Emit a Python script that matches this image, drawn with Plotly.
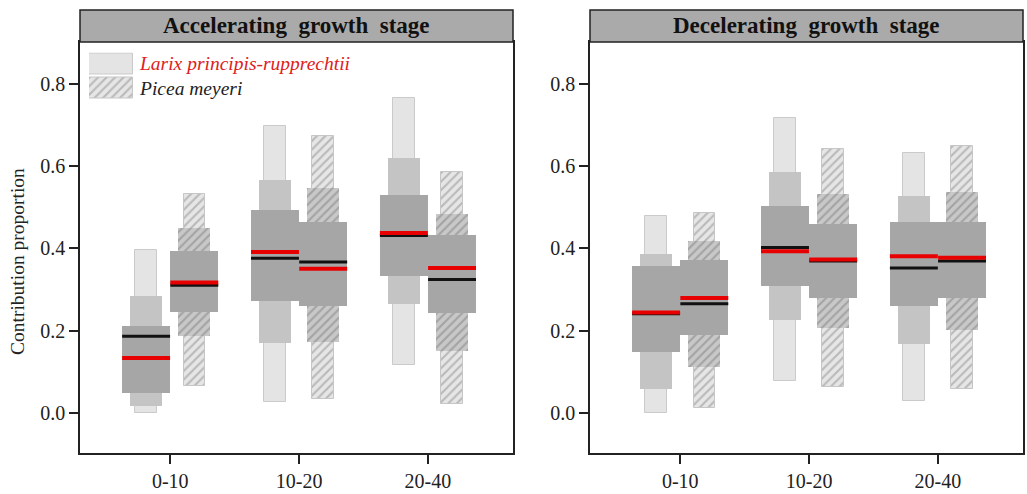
import plotly.graph_objects as go

W, H = 1027, 494
FONT = "Liberation Serif"

categories = ["0-10", "10-20", "20-40"]
species = ["Larix principis-rupprechtii", "Picea meyeri"]
stages = ["Accelerating  growth  stage", "Decelerating  growth  stage"]

# ---- Accelerating growth stage ----
acc_larix_95_lo = [0.000, 0.025, 0.115]
acc_larix_95_hi = [0.397, 0.698, 0.766]
acc_larix_75_lo = [0.017, 0.169, 0.265]
acc_larix_75_hi = [0.283, 0.567, 0.620]
acc_larix_50_lo = [0.049, 0.271, 0.332]
acc_larix_50_hi = [0.212, 0.494, 0.530]
acc_larix_red = [0.133, 0.391, 0.437]
acc_larix_black = [0.186, 0.376, 0.431]

acc_picea_95_lo = [0.066, 0.034, 0.022]
acc_picea_95_hi = [0.533, 0.674, 0.585]
acc_picea_75_lo = [0.186, 0.173, 0.149]
acc_picea_75_hi = [0.449, 0.547, 0.484]
acc_picea_50_lo = [0.246, 0.260, 0.243]
acc_picea_50_hi = [0.394, 0.465, 0.433]
acc_picea_red = [0.317, 0.350, 0.352]
acc_picea_black = [0.310, 0.367, 0.324]

# ---- Decelerating growth stage ----
dec_larix_95_lo = [0.000, 0.077, 0.028]
dec_larix_95_hi = [0.479, 0.717, 0.632]
dec_larix_75_lo = [0.057, 0.225, 0.168]
dec_larix_75_hi = [0.386, 0.585, 0.528]
dec_larix_50_lo = [0.148, 0.308, 0.259]
dec_larix_50_hi = [0.356, 0.504, 0.463]
dec_larix_red = [0.244, 0.393, 0.381]
dec_larix_black = [0.241, 0.402, 0.352]

dec_picea_95_lo = [0.011, 0.063, 0.058]
dec_picea_95_hi = [0.486, 0.642, 0.648]
dec_picea_75_lo = [0.111, 0.207, 0.202]
dec_picea_75_hi = [0.419, 0.532, 0.536]
dec_picea_50_lo = [0.189, 0.278, 0.279]
dec_picea_50_hi = [0.372, 0.460, 0.464]
dec_picea_red = [0.279, 0.373, 0.377]
dec_picea_black = [0.265, 0.369, 0.369]

panels = [
    {
        "larix": [(acc_larix_95_lo, acc_larix_95_hi), (acc_larix_75_lo, acc_larix_75_hi), (acc_larix_50_lo, acc_larix_50_hi)],
        "picea": [(acc_picea_95_lo, acc_picea_95_hi), (acc_picea_75_lo, acc_picea_75_hi), (acc_picea_50_lo, acc_picea_50_hi)],
        "lines": [(acc_larix_black, acc_larix_red), (acc_picea_black, acc_picea_red)],
    },
    {
        "larix": [(dec_larix_95_lo, dec_larix_95_hi), (dec_larix_75_lo, dec_larix_75_hi), (dec_larix_50_lo, dec_larix_50_hi)],
        "picea": [(dec_picea_95_lo, dec_picea_95_hi), (dec_picea_75_lo, dec_picea_75_hi), (dec_picea_50_lo, dec_picea_50_hi)],
        "lines": [(dec_larix_black, dec_larix_red), (dec_picea_black, dec_picea_red)],
    },
]

# styling
widths = [0.166, 0.246, 0.372]
offsets = [-0.187, 0.187]
solid_cols = ["#e4e4e4", "#c4c4c4", "#a6a6a6"]
hatch_bg = ["#e6e6e6", "#c8c8c8", None]
hatch_fg = ["#b9b9b9", "#a3a3a3", None]
RED = "#e80000"

xpos = [1, 2, 3]
fig = go.Figure()

for p, panel in enumerate(panels):
    xa = "x" if p == 0 else "x2"
    ya = "y" if p == 0 else "y2"
    for s, key in enumerate(["larix", "picea"]):
        xs = [c + offsets[s] for c in xpos]
        for lvl, (lo, hi) in enumerate(panel[key]):
            marker = dict(color=solid_cols[lvl],
                          line=dict(color="#cacaca" if lvl == 0 else solid_cols[lvl], width=1 if lvl == 0 else 0))
            if key == "picea" and hatch_bg[lvl] is not None:
                marker["color"] = hatch_bg[lvl]
                marker["pattern"] = dict(shape="/", fillmode="replace", bgcolor=hatch_bg[lvl],
                                         fgcolor=hatch_fg[lvl], size=6, solidity=0.35)
                marker["line"] = dict(color="#c6c6c6" if lvl == 0 else hatch_bg[lvl], width=1 if lvl == 0 else 0)
            fig.add_trace(go.Bar(
                x=xs, base=lo, y=[h - l for h, l in zip(hi, lo)], width=widths[lvl],
                marker=marker, xaxis=xa, yaxis=ya, showlegend=False, hoverinfo="skip"))
    for s, (blk, red) in enumerate(panel["lines"]):
        for vals, col, lw in [(blk, "#111111", 3), (red, RED, 4)]:
            lx, ly = [], []
            for c, v in zip(xpos, vals):
                cx = c + offsets[s]
                lx += [cx - widths[2] / 2, cx + widths[2] / 2, None]
                ly += [v, v, None]
            fig.add_trace(go.Scatter(x=lx, y=ly, mode="lines", line=dict(color=col, width=lw),
                                     xaxis=xa, yaxis=ya, showlegend=False, hoverinfo="skip"))

# legend swatches (own small axis)
fig.add_trace(go.Bar(y=[1], x=[1], orientation="h", width=0.9,
                     marker=dict(color=solid_cols[0], line=dict(color="#cacaca", width=1)),
                     xaxis="x3", yaxis="y3", showlegend=False, hoverinfo="skip"))
fig.add_trace(go.Bar(y=[0], x=[1], orientation="h", width=0.9,
                     marker=dict(color=hatch_bg[0], line=dict(color="#c6c6c6", width=1),
                                 pattern=dict(shape="/", fillmode="replace", bgcolor=hatch_bg[0],
                                              fgcolor=hatch_fg[0], size=6, solidity=0.35)),
                     xaxis="x3", yaxis="y3", showlegend=False, hoverinfo="skip"))

def px(x):
    return x / W

def py(y):
    return (H - y) / H

dom_x = [[px(80), px(513)], [px(590), px(1023)]]
dom_y = [py(453), py(42)]

axis_common = dict(showline=True, mirror=True, linecolor="#222222", linewidth=1.5,
                   ticks="outside", ticklen=9, tickwidth=1.5, tickcolor="#222222",
                   showgrid=False, zeroline=False,
                   tickfont=dict(family=FONT, size=20, color="#222222"))

fig.update_layout(
    width=W, height=H, margin=dict(l=0, r=0, t=0, b=0),
    paper_bgcolor="white", plot_bgcolor="white",
    barmode="overlay", bargap=0,
    xaxis=dict(domain=dom_x[0], range=[0.3, 3.66], tickvals=xpos, ticktext=categories, anchor="y", **axis_common),
    yaxis=dict(domain=dom_y, range=[-0.098, 0.902], tickvals=[0, 0.2, 0.4, 0.6, 0.8],
               ticktext=["0.0", "0.2", "0.4", "0.6", "0.8"], anchor="x", **axis_common),
    xaxis2=dict(domain=dom_x[1], range=[0.3, 3.66], tickvals=xpos, ticktext=categories, anchor="y2", **axis_common),
    yaxis2=dict(domain=dom_y, range=[-0.098, 0.902], tickvals=[0, 0.2, 0.4, 0.6, 0.8],
                ticktext=["0.0", "0.2", "0.4", "0.6", "0.8"], anchor="x2", **axis_common),
    xaxis3=dict(domain=[px(89), px(133)], range=[0, 1], visible=False, anchor="y3", fixedrange=True),
    yaxis3=dict(domain=[py(99.5), py(52.5)], range=[-0.5, 1.5], visible=False, anchor="x3", fixedrange=True),
)

# strips and titles
for p in range(2):
    fig.add_shape(type="rect", xref="paper", yref="paper",
                  x0=dom_x[p][0], x1=dom_x[p][1], y0=dom_y[1], y1=py(10),
                  fillcolor="#aaaaaa", line=dict(color="#222222", width=1.5), layer="above")
    fig.add_annotation(text="<b>" + stages[p] + "</b>", xref="paper", yref="paper",
                       x=(dom_x[p][0] + dom_x[p][1]) / 2, y=(dom_y[1] + py(10)) / 2,
                       showarrow=False, xanchor="center", yanchor="middle",
                       font=dict(family=FONT, size=23, color="#111111"))

# legend labels
fig.add_annotation(text="<i>" + species[0] + "</i>", xref="paper", yref="paper", x=px(137), y=py(63.5),
                   showarrow=False, xanchor="left", yanchor="middle",
                   font=dict(family=FONT, size=19.5, color="#e02020"))
fig.add_annotation(text="<i>" + species[1] + "</i>", xref="paper", yref="paper", x=px(137), y=py(88.5),
                   showarrow=False, xanchor="left", yanchor="middle",
                   font=dict(family=FONT, size=19.5, color="#222222"))

# y axis title
fig.add_annotation(text="Contribution proportion", xref="paper", yref="paper", x=px(17), y=py(262),
                   showarrow=False, textangle=-90, xanchor="center", yanchor="middle",
                   font=dict(family=FONT, size=19.5, color="#222222"))

fig.write_html("out.html")
